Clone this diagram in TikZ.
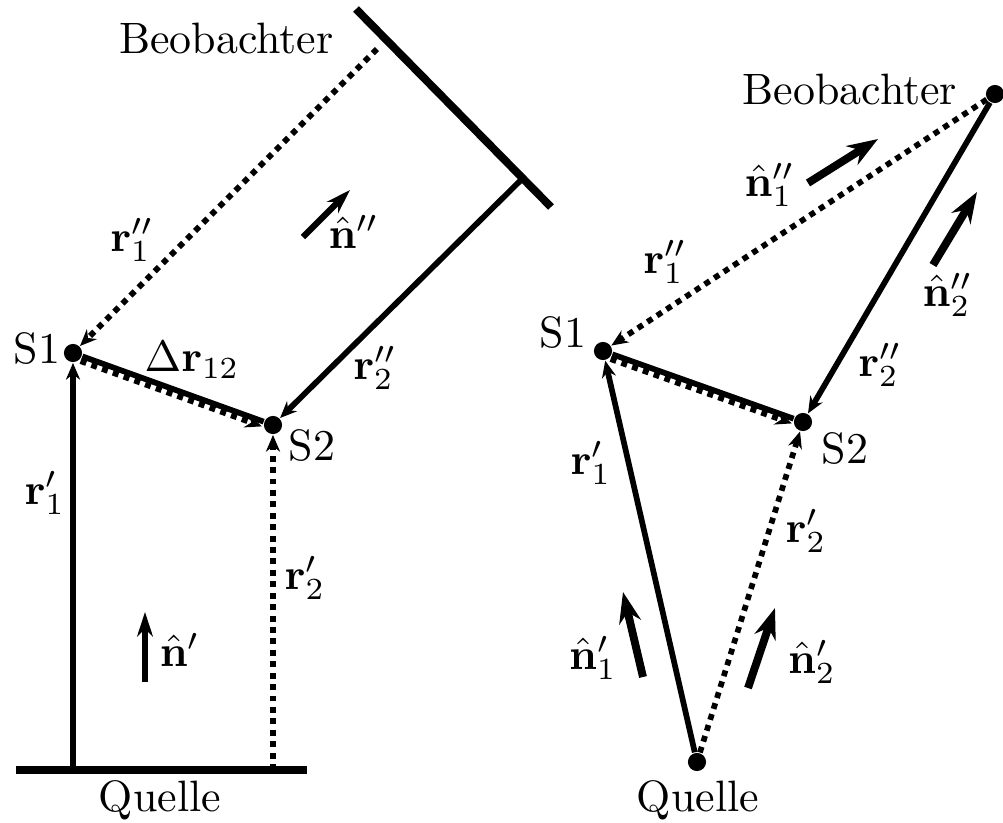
\documentclass[tikz,border=0pt]{standalone}
\usepackage{amsmath}
\usetikzlibrary{arrows.meta}
\tikzset{
	ray/.style = {line width = 1.3pt, -{Stealth[length = 3.8pt, width = 3.2pt]}},
	dotray/.style = {ray, dash pattern = on 1.35pt off 1.25pt},
	screen/.style = {line width = 1.8pt},
	scat/.style = {circle, fill = black, inner sep = 0pt, minimum size = 1.45mm},
	nvec/.style = {line width = 1.4pt, -{Stealth[length = 5.6pt, width = 3.6pt]}},
	bignvec/.style = {line width = 1.8pt, -{Stealth[length = 7pt, width = 5pt]}},
}
\begin{document}
\begin{tikzpicture}[x = 0.08mm, y = -0.08mm]
	\useasboundingbox (0,0) rectangle (1003,823);
	% linke Seite: ebene Wellen
	\draw[screen] (16,770) -- (307,770);
	\draw[screen] (356,9) -- (551,207);
	\node (quelleL) at (160,800) {Quelle};
	\node [anchor = east] (beobL) at (349,38) {Beobachter};
	\node [scat] (s1L) at (73,353) {};
	\node [scat] (s2L) at (273,425) {};
	\node (s1Ltxt) at (37,348) {S1};
	\node (s2Ltxt) at (312,445) {S2};
	\coordinate (q1L) at (73,770);
	\coordinate (q2L) at (273,770);
	\coordinate (b1L) at (377,49);
	\coordinate (b2L) at (521,180);
	\draw [ray] (q1L) -- (s1L);
	\draw [dotray] (q2L) -- (s2L);
	\draw [dotray] (b1L) -- (s1L);
	\draw [ray] (b2L) -- (s2L);
	\draw [line width = 1.3pt] (s1L) -- (s2L);
	\draw [dotray, transform canvas = {xshift = -0.14mm, yshift = -0.38mm}] (s1L) -- (s2L);
	\draw [nvec] (145,682) -- (145,612);
	\draw [nvec] (303,237) -- (350,190);
	\node (r1sL) at (45,493) {$\mathbf{r}'_1$};
	\node (r2sL) at (305,578) {$\mathbf{r}'_2$};
	\node (r1ssL) at (132,240) {$\mathbf{r}''_1$};
	\node (r2ssL) at (375,368) {$\mathbf{r}''_2$};
	\node (drL) at (192,360) {$\Delta\mathbf{r}_{12}$};
	\node (nsL) at (180,650) {$\hat{\mathbf{n}}'$};
	\node (nssL) at (354,232) {$\hat{\mathbf{n}}''$};
	% rechte Seite: Kugelwellen
	\node [scat] (qR) at (697,762) {};
	\node [scat] (s1R) at (603,351) {};
	\node [scat] (s2R) at (803,422) {};
	\node [scat] (bR) at (995,94) {};
	\node (quelleR) at (698,800) {Quelle};
	\node (beobR) at (850,89) {Beobachter};
	\node (s1Rtxt) at (563,332) {S1};
	\node (s2Rtxt) at (845,448) {S2};
	\draw [ray] (qR) -- (s1R);
	\draw [dotray] (qR) -- (s2R);
	\draw [dotray] (bR) -- (s1R);
	\draw [ray] (bR) -- (s2R);
	\draw [line width = 1.3pt] (s1R) -- (s2R);
	\draw [dotray, transform canvas = {xshift = -0.14mm, yshift = -0.38mm}] (s1R) -- (s2R);
	\draw [bignvec] (643,677) -- (623,592);
	\draw [bignvec] (748,688) -- (775,608);
	\draw [bignvec] (808,183) -- (878,139);
	\draw [bignvec] (933,265) -- (977,192);
	\node (r1sR) at (591,463) {$\mathbf{r}'_1$};
	\node (r2sR) at (806,531) {$\mathbf{r}'_2$};
	\node (r1ssR) at (665,262) {$\mathbf{r}''_1$};
	\node (r2ssR) at (880,365) {$\mathbf{r}''_2$};
	\node (n1sR) at (593,658) {$\hat{\mathbf{n}}'_1$};
	\node (n2sR) at (812,662) {$\hat{\mathbf{n}}'_2$};
	\node (n1ssR) at (770,185) {$\hat{\mathbf{n}}''_1$};
	\node (n2ssR) at (948,295) {$\hat{\mathbf{n}}''_2$};
\end{tikzpicture}
\end{document}
